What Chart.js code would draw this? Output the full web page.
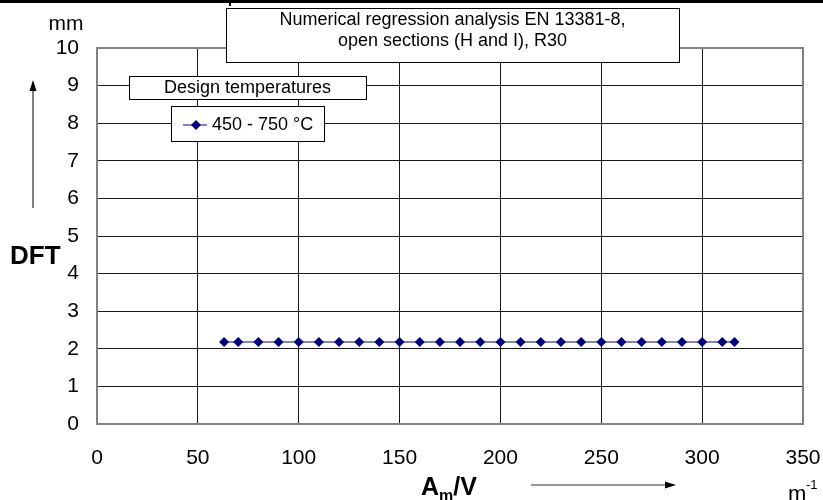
<!DOCTYPE html>
<html>
<head>
<meta charset="utf-8">
<script src="https://cdn.jsdelivr.net/npm/chart.js@4"></script>
<style>
  html, body { margin: 0; padding: 0; background: #fff; }
  #wrap { width: 823px; height: 500px; }
</style>
</head>
<body>
<div id="wrap"><canvas id="myChart" width="823" height="500"></canvas></div>
<script>
// section factor A_m/V (1/m) and the required DFT (mm)
const amvValues = [63, 70, 80, 90, 100, 110, 120, 130, 140, 150, 160, 170, 180, 190, 200,
  210, 220, 230, 240, 250, 260, 270, 280, 290, 300, 310, 316];
const dftValues = [2.18, 2.18, 2.18, 2.18, 2.18, 2.18, 2.18, 2.18, 2.18, 2.18, 2.18, 2.18, 2.18, 2.18, 2.18,
  2.18, 2.18, 2.18, 2.18, 2.18, 2.18, 2.18, 2.18, 2.18, 2.18, 2.18, 2.18];
const seriesLabel = '450 - 750 °C';
const titleLines = ['Numerical regression analysis EN 13381-8,', 'open sections (H and I), R30'];
const legendTitle = 'Design temperatures';

const FONT = "'Liberation Sans', Arial, sans-serif";
const lineColor = '#5a5aaa';
const pointColor = '#000080';

function arrow(ctx, x1, y1, x2, y2) {
  const a = Math.atan2(y2 - y1, x2 - x1);
  ctx.beginPath();
  ctx.moveTo(x1, y1);
  ctx.lineTo(x2, y2);
  ctx.stroke();
  ctx.beginPath();
  ctx.moveTo(x2 + 2 * Math.cos(a), y2 + 2 * Math.sin(a));
  ctx.lineTo(x2 - 9 * Math.cos(a) + 3.5 * Math.sin(a), y2 - 9 * Math.sin(a) - 3.5 * Math.cos(a));
  ctx.lineTo(x2 - 9 * Math.cos(a) - 3.5 * Math.sin(a), y2 - 9 * Math.sin(a) + 3.5 * Math.cos(a));
  ctx.closePath();
  ctx.fill();
}

function box(ctx, x, y, w, h) {
  ctx.fillStyle = '#fff';
  ctx.fillRect(x, y, w, h);
  ctx.strokeStyle = '#000';
  ctx.lineWidth = 1;
  ctx.strokeRect(x + 0.5, y + 0.5, w, h);
}

const plotFrame = {
  id: 'plotFrame',
  beforeDatasetsDraw(chart) {
    const { ctx, chartArea: a } = chart;
    ctx.save();
    ctx.strokeStyle = '#808080';
    ctx.lineWidth = 2;
    ctx.strokeRect(a.left, a.top, a.right - a.left, a.bottom - a.top);
    ctx.restore();
  }
};

const decorations = {
  id: 'decorations',
  afterDraw(chart) {
    const ctx = chart.ctx;
    ctx.save();

    // page border remains at the top
    ctx.fillStyle = '#000';
    ctx.fillRect(0, 0, 823, 3);
    ctx.fillRect(229, 0, 2, 6);

    // title box
    box(ctx, 226, 8, 453, 54);
    ctx.fillStyle = '#000';
    ctx.font = '18px ' + FONT;
    ctx.textAlign = 'center';
    ctx.textBaseline = 'middle';
    ctx.fillText(titleLines[0], 452.5, 20);
    ctx.fillText(titleLines[1], 452.5, 41.5);

    // legend heading
    box(ctx, 129, 76, 237, 23);
    ctx.fillStyle = '#000';
    ctx.font = '18px ' + FONT;
    ctx.fillText(legendTitle, 247.5, 88);

    // legend
    box(ctx, 171, 106, 153, 35);
    const ds = chart.data.datasets[0];
    ctx.strokeStyle = ds.borderColor;
    ctx.lineWidth = 1.5;
    ctx.beginPath();
    ctx.moveTo(183, 125);
    ctx.lineTo(207, 125);
    ctx.stroke();
    ctx.fillStyle = pointColor;
    ctx.beginPath();
    ctx.moveTo(196, 120);
    ctx.lineTo(201, 125);
    ctx.lineTo(196, 130);
    ctx.lineTo(191, 125);
    ctx.closePath();
    ctx.fill();
    ctx.fillStyle = '#000';
    ctx.font = '18px ' + FONT;
    ctx.textAlign = 'left';
    ctx.fillText(ds.label, 212, 125);

    // y axis title
    ctx.textAlign = 'center';
    ctx.font = '21px ' + FONT;
    ctx.fillText('mm', 66, 24);
    ctx.strokeStyle = '#555';
    ctx.fillStyle = '#000';
    ctx.lineWidth = 1.5;
    arrow(ctx, 33, 208, 33, 82);
    ctx.font = 'bold 26px ' + FONT;
    ctx.textAlign = 'left';
    ctx.fillText('DFT', 10, 257);

    // x axis title
    ctx.textBaseline = 'alphabetic';
    ctx.font = 'bold 25px ' + FONT;
    ctx.fillText('A', 421, 495);
    let x = 421 + ctx.measureText('A').width;
    ctx.font = 'bold 16px ' + FONT;
    ctx.fillText('m', x, 501);
    x += ctx.measureText('m').width;
    ctx.font = 'bold 25px ' + FONT;
    ctx.fillText('/V', x, 495);
    ctx.strokeStyle = '#333';
    ctx.fillStyle = '#000';
    ctx.lineWidth = 1.2;
    arrow(ctx, 531, 485, 674, 485);

    ctx.font = '22px ' + FONT;
    ctx.fillText('m', 788, 501);
    ctx.font = '13px ' + FONT;
    ctx.fillText('-1', 806, 489);

    ctx.restore();
  }
};

const ctx = document.getElementById('myChart').getContext('2d');

const myChart = new Chart(ctx, {
  type: 'scatter',
  data: {
    datasets: [{
      label: seriesLabel,
      data: amvValues.map((x, i) => ({ x: x, y: dftValues[i] })),
      showLine: true,
      borderColor: lineColor,
      borderWidth: 1.5,
      pointStyle: 'rectRot',
      pointRadius: 5,
      pointBackgroundColor: pointColor,
      pointBorderColor: pointColor,
      pointBorderWidth: 0
    }]
  },
  options: {
    responsive: false,
    animation: false,
    layout: { padding: { top: 48, right: 20, left: 0, bottom: 0 } },
    plugins: {
      legend: { display: false },
      title: { display: false },
      tooltip: { enabled: false }
    },
    scales: {
      x: {
        type: 'linear',
        min: 0,
        max: 350,
        ticks: { stepSize: 50, color: '#000', font: { family: FONT, size: 21 }, padding: 22, maxRotation: 0 },
        grid: { color: '#1a1a1a', lineWidth: 1, drawTicks: false },
        border: { display: false },
        afterFit: s => { s.height = 76; s.paddingLeft = 0; s.paddingRight = 0; }
      },
      y: {
        min: 0,
        max: 10,
        ticks: { stepSize: 1, color: '#000', font: { family: FONT, size: 21 }, padding: 18 },
        grid: { color: '#1a1a1a', lineWidth: 1, drawTicks: false },
        border: { display: false },
        afterFit: s => { s.width = 97; s.paddingTop = 0; s.paddingBottom = 0; }
      }
    }
  },
  plugins: [plotFrame, decorations]
});
</script>
</body>
</html>
